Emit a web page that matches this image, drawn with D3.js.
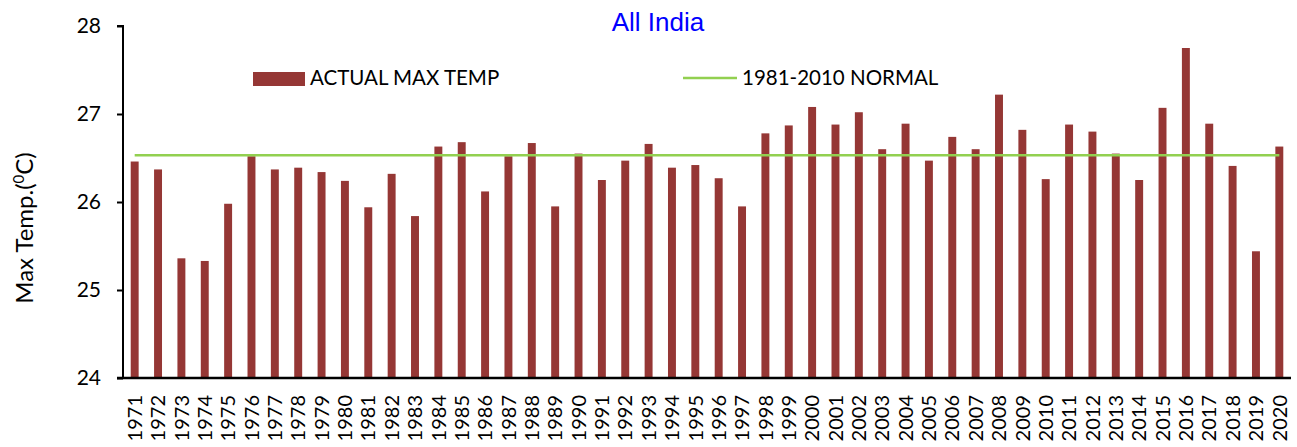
<!DOCTYPE html>
<html><head><meta charset="utf-8">
<script src="https://cdn.jsdelivr.net/npm/d3@7"></script>
<style>body{margin:0;background:#fff}svg{display:block}</style>
</head><body><svg id="c" width="1297" height="447"></svg>
<script>
const years = ["1971","1972","1973","1974","1975","1976","1977","1978","1979","1980","1981","1982","1983","1984","1985","1986","1987","1988","1989","1990","1991","1992","1993","1994","1995","1996","1997","1998","1999","2000","2001","2002","2003","2004","2005","2006","2007","2008","2009","2010","2011","2012","2013","2014","2015","2016","2017","2018","2019","2020"];
const actualMax = [26.46,26.37,25.36,25.33,25.98,26.52,26.37,26.39,26.34,26.24,25.94,26.32,25.84,26.63,26.68,26.12,26.52,26.67,25.95,26.55,26.25,26.47,26.66,26.39,26.42,26.27,25.95,26.78,26.87,27.08,26.88,27.02,26.60,26.89,26.47,26.74,26.60,27.22,26.82,26.26,26.88,26.80,26.55,26.25,27.07,27.75,26.89,26.41,25.44,26.63];
const normal = 26.53;
const yTicks = [24,25,26,27,28];
const font = "Lato, 'Open Sans', sans-serif";

const svg = d3.select("#c");
const L = 123, R = 1291, T = 26, B = 378;
const x = d3.scaleBand().domain(years).range([L, R]).paddingInner(0.66).paddingOuter(0.33);
const y = d3.scaleLinear().domain([24, 28]).range([B, T]);

svg.selectAll("rect.bar").data(actualMax).join("rect").attr("class","bar")
  .attr("x",(d,i)=>x(years[i])).attr("width",x.bandwidth())
  .attr("y",d=>y(d)).attr("height",d=>y(24)-y(d)).attr("fill","#953735");

const cx = d => x(d) + x.bandwidth()/2;
svg.append("line").attr("x1",cx(years[0])).attr("x2",cx(years[years.length-1]))
  .attr("y1",y(normal)).attr("y2",y(normal)).attr("stroke","#92D050").attr("stroke-width",2.5);

// y axis
const ya = svg.append("g").attr("transform",`translate(${L},0)`)
  .call(d3.axisLeft(y).tickValues(yTicks).tickSize(6).tickPadding(16).tickFormat(d3.format("d")));
ya.select(".domain").attr("stroke","#000").attr("stroke-width",2).attr("d",`M-6,${T}H0V${B}`);
ya.selectAll(".tick line").attr("stroke","#000").attr("stroke-width",2);
ya.selectAll("text").attr("font-family",font).attr("font-size",21).attr("fill","#000");

// x axis
const xa = svg.append("g").attr("transform",`translate(0,${B})`)
  .call(d3.axisBottom(x).tickSize(0).tickPadding(0));
xa.select(".domain").attr("stroke","#000").attr("stroke-width",2.5).attr("d",`M${L-6},0H${R}`);
xa.selectAll("text").attr("font-family",font).attr("font-size",20).attr("fill","#000")
  .attr("transform","rotate(-90)").attr("text-anchor","end").attr("dx","-17").attr("dy","0.36em").attr("y",0).attr("x",0);

// title
svg.append("text").attr("x",658).attr("y",31).attr("text-anchor","middle")
  .attr("font-family","Arial, 'Liberation Sans', sans-serif").attr("font-size",26).attr("fill","#0000FF").text("All India");

// y label
const yl = svg.append("text").attr("transform","translate(33,228) rotate(-90)").attr("text-anchor","middle")
  .attr("font-family",font).attr("font-size",24).attr("fill","#000");
yl.append("tspan").text("Max Temp.(");
yl.append("tspan").attr("font-size",15).attr("dy","-9").text("0");
yl.append("tspan").attr("dy","9").text("C)");

// legend
svg.append("rect").attr("x",253).attr("y",72).attr("width",52).attr("height",14).attr("fill","#953735");
svg.append("text").attr("x",310).attr("y",85).attr("font-family",font).attr("font-size",20.5).attr("fill","#000").text("ACTUAL MAX TEMP");
svg.append("line").attr("x1",683).attr("x2",737).attr("y1",78).attr("y2",78).attr("stroke","#92D050").attr("stroke-width",2.5);
svg.append("text").attr("x",742).attr("y",85).attr("font-family",font).attr("font-size",20.5).attr("fill","#000").text("1981-2010 NORMAL");
</script></body></html>
